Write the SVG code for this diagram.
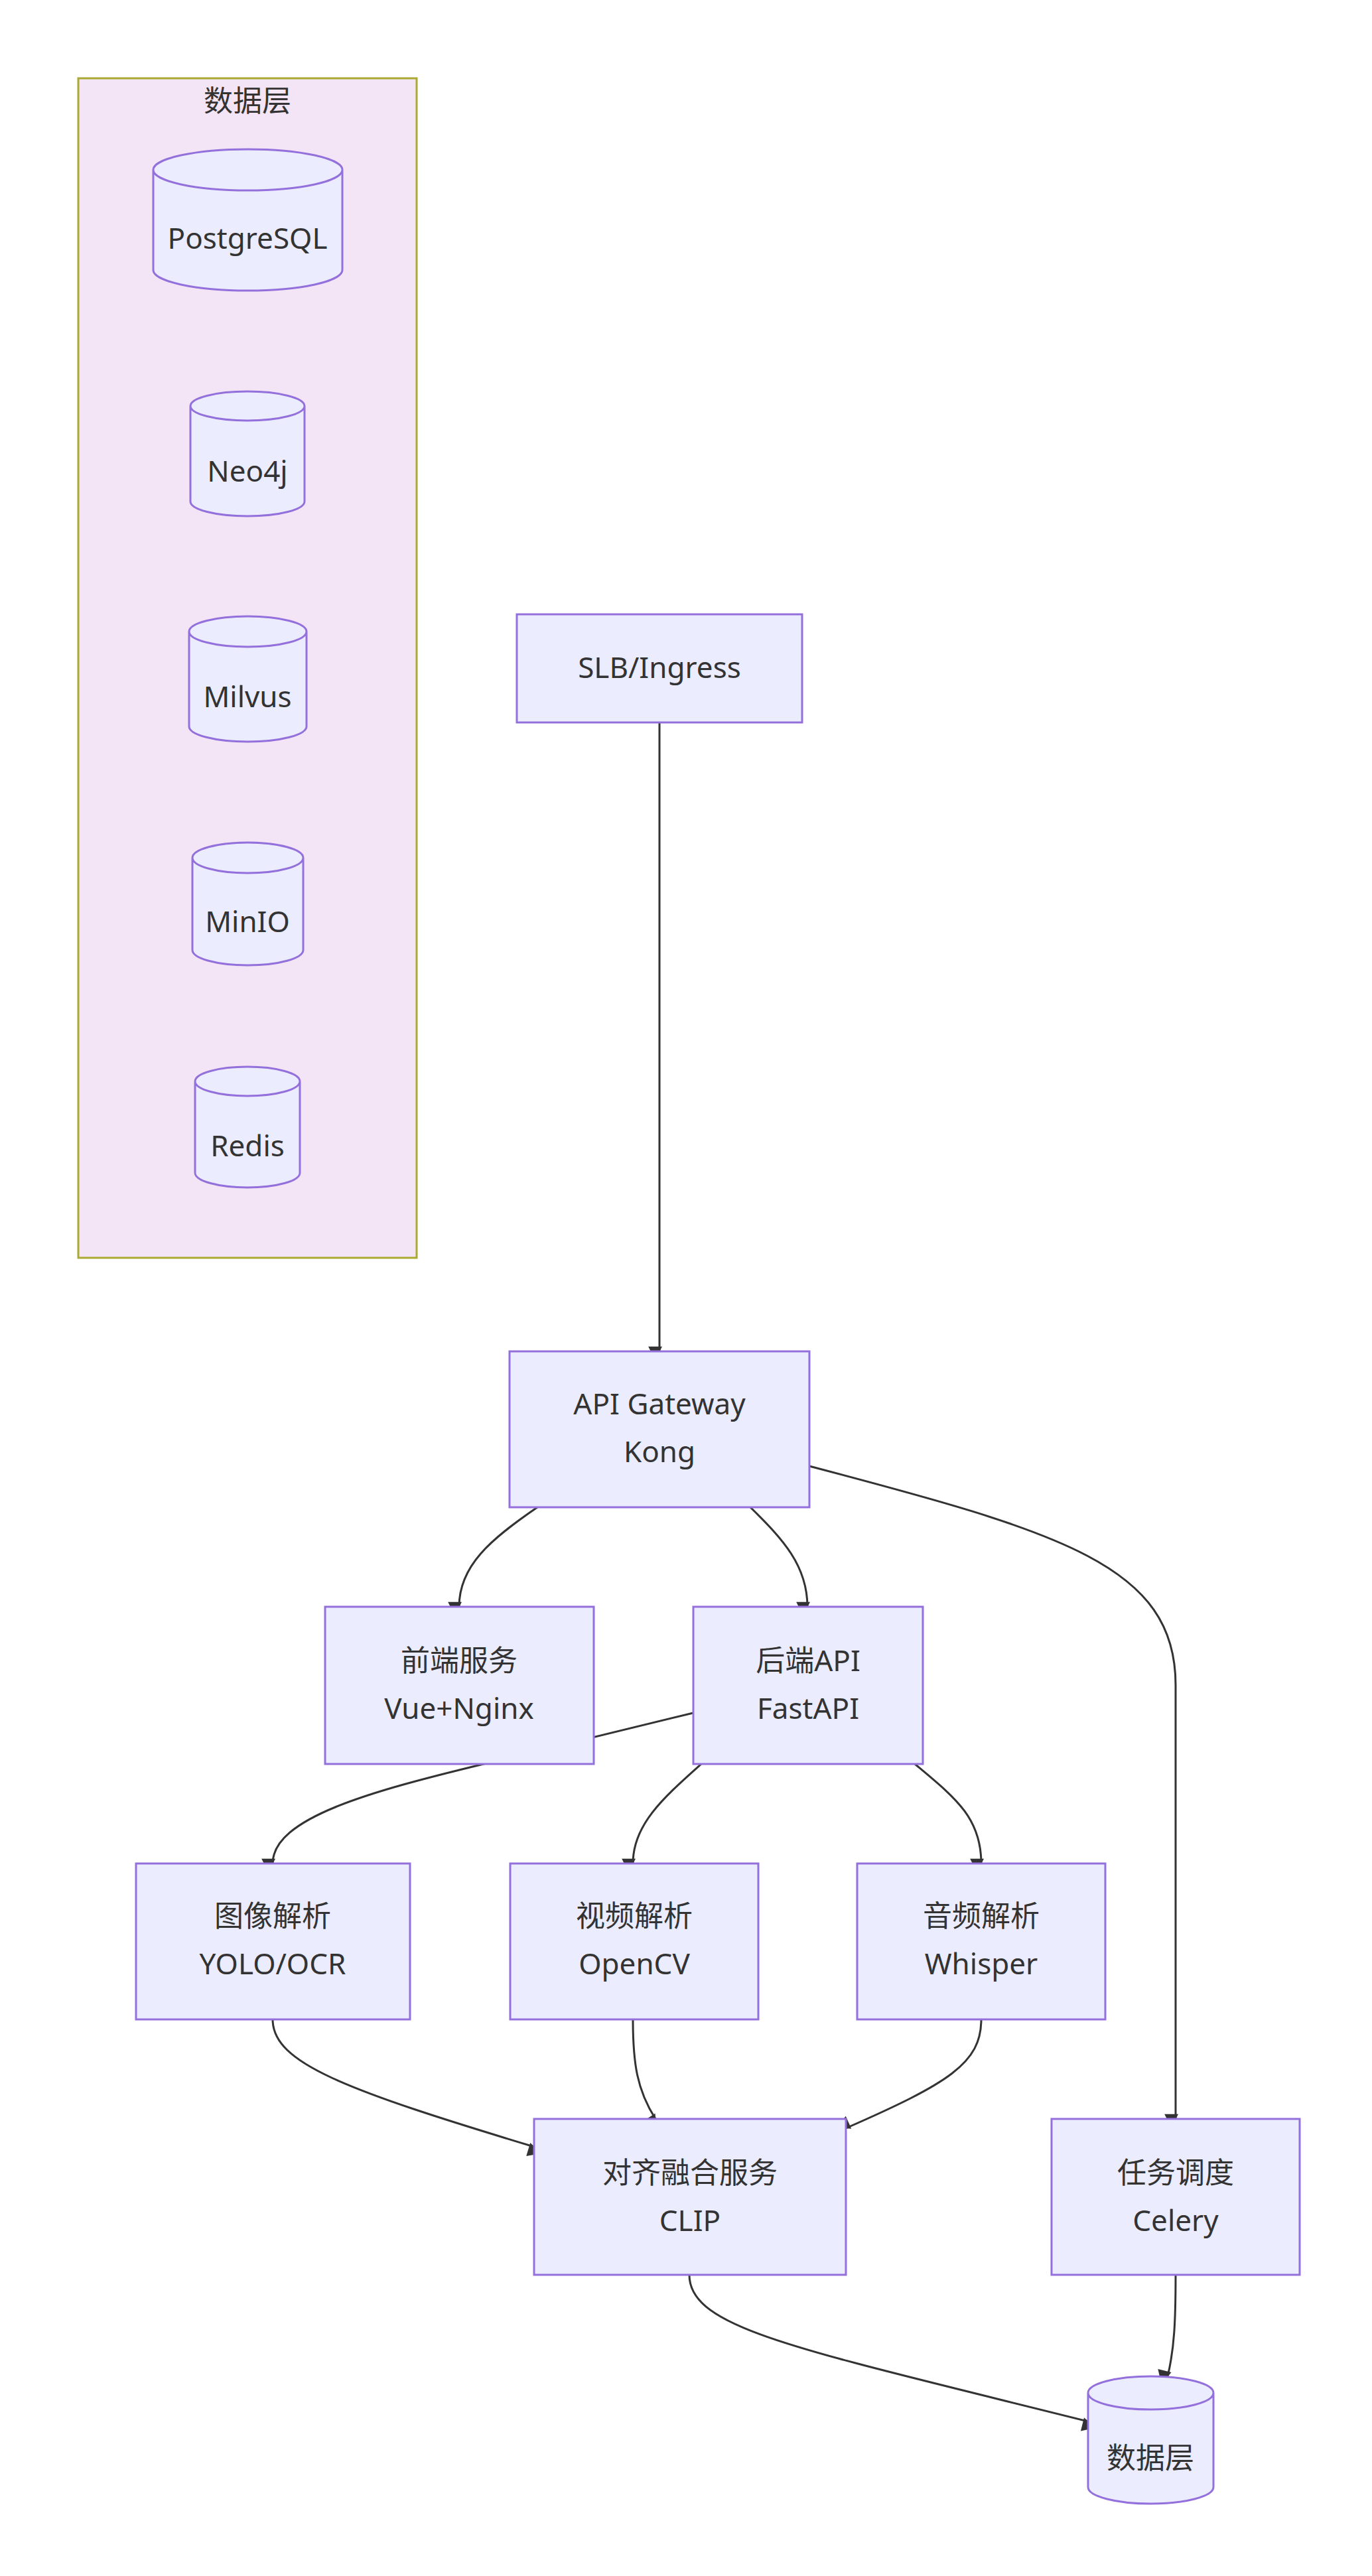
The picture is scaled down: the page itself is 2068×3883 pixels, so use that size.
<svg xmlns="http://www.w3.org/2000/svg" width="2068" height="3883" viewBox="0 0 2068 3883">
<style>
.n{fill:#ECECFF;stroke:#9370DB;stroke-width:3}
.t{font-family:"Noto Sans","Noto Sans CJK SC",sans-serif;font-size:44px;fill:#333;text-anchor:middle}
.e{fill:none;stroke:#333;stroke-width:3;marker-end:url(#a)}
</style>
<defs>
<marker id="a" viewBox="0 0 10 10" refX="9" refY="5" markerWidth="8" markerHeight="8" markerUnits="userSpaceOnUse" orient="auto" overflow="visible">
<path d="M0,0L10,5L0,10z" fill="#333" transform="scale(2.6) translate(-6,-5) translate(6,5)"/>
</marker>
</defs>
<rect width="2068" height="3883" fill="#fff"/>
<g id="cluster">
<rect x="118" y="118" width="510" height="1778" fill="#F3E5F5" stroke="#AAAA33" stroke-width="3"/>
<text class="t" x="373" y="168">数据层</text>
</g>
<g id="PG"><path class="n" d="M231,256 v151 a142.5,31 0 0 0 285,0 v-151 a142.5,31 0 0 0 -285,0 a142.5,31 0 0 0 285,0"/><text class="t" x="373" y="375">PostgreSQL</text></g>
<g id="Neo"><path class="n" d="M287,612 v144 a86,22 0 0 0 172,0 v-144 a86,22 0 0 0 -172,0 a86,22 0 0 0 172,0"/><text class="t" x="373" y="726">Neo4j</text></g>
<g id="Mil"><path class="n" d="M285,952 v143 a88.5,23 0 0 0 177,0 v-143 a88.5,23 0 0 0 -177,0 a88.5,23 0 0 0 177,0"/><text class="t" x="373" y="1066">Milvus</text></g>
<g id="Min"><path class="n" d="M290,1293 v139 a83.5,23 0 0 0 167,0 v-139 a83.5,23 0 0 0 -167,0 a83.5,23 0 0 0 167,0"/><text class="t" x="373" y="1405">MinIO</text></g>
<g id="Red"><path class="n" d="M294,1630 v138 a79,22 0 0 0 158,0 v-138 a79,22 0 0 0 -158,0 a79,22 0 0 0 158,0"/><text class="t" x="373" y="1743">Redis</text></g>
<g id="edges">
<path class="e" d="M994,1089 V2037"/>
<path class="e" d="M810,2272 C740,2320 692,2360 692,2422"/>
<path class="e" d="M1131,2272 C1180,2320 1217,2360 1217,2422"/>
<path class="e" d="M1220,2210 C1600,2310 1772,2360 1772,2540 V3194"/>
<path class="e" d="M1045,2582 L729,2659 C560,2700 411,2740 411,2809"/>
<path class="e" d="M1057,2659 C1000,2710 954,2750 954,2809"/>
<path class="e" d="M1379,2659 C1440,2710 1479,2740 1479,2809"/>
<path class="e" d="M411,3044 C411,3110 520,3150 805,3236"/>
<path class="e" d="M954,3044 C954,3110 960,3150 988,3194"/>
<path class="e" d="M1479,3044 C1479,3110 1430,3140 1275,3208"/>
<path class="e" d="M1039,3429 C1039,3510 1200,3540 1640,3650"/>
<path class="e" d="M1772,3429 C1772,3500 1770,3540 1760,3582"/>
</g>
<g id="SLB"><rect class="n" x="779" y="926" width="430" height="163"/><text class="t" x="994" y="1022">SLB/Ingress</text></g>
<g id="GW"><rect class="n" x="768" y="2037" width="452" height="235"/><text class="t" x="994" y="2132">API Gateway</text><text class="t" x="994" y="2204">Kong</text></g>
<g id="FE"><rect class="n" x="490" y="2422" width="405" height="237"/><text class="t" x="692" y="2519">前端服务</text><text class="t" x="692" y="2591">Vue+Nginx</text></g>
<g id="BE"><rect class="n" x="1045" y="2422" width="346" height="237"/><text class="t" x="1218" y="2519">后端API</text><text class="t" x="1218" y="2591">FastAPI</text></g>
<g id="IMG"><rect class="n" x="205" y="2809" width="413" height="235"/><text class="t" x="411" y="2904">图像解析</text><text class="t" x="411" y="2976">YOLO/OCR</text></g>
<g id="VID"><rect class="n" x="769" y="2809" width="374" height="235"/><text class="t" x="956" y="2904">视频解析</text><text class="t" x="956" y="2976">OpenCV</text></g>
<g id="AUD"><rect class="n" x="1292" y="2809" width="374" height="235"/><text class="t" x="1479" y="2904">音频解析</text><text class="t" x="1479" y="2976">Whisper</text></g>
<g id="CLIP"><rect class="n" x="805" y="3194" width="470" height="235"/><text class="t" x="1040" y="3291">对齐融合服务</text><text class="t" x="1040" y="3363">CLIP</text></g>
<g id="CEL"><rect class="n" x="1585" y="3194" width="374" height="235"/><text class="t" x="1772" y="3291">任务调度</text><text class="t" x="1772" y="3363">Celery</text></g>
<g id="DB"><path class="n" d="M1640,3607 v142 a94.5,25 0 0 0 189,0 v-142 a94.5,25 0 0 0 -189,0 a94.5,25 0 0 0 189,0"/><text class="t" x="1734" y="3721">数据层</text></g>
</svg>
